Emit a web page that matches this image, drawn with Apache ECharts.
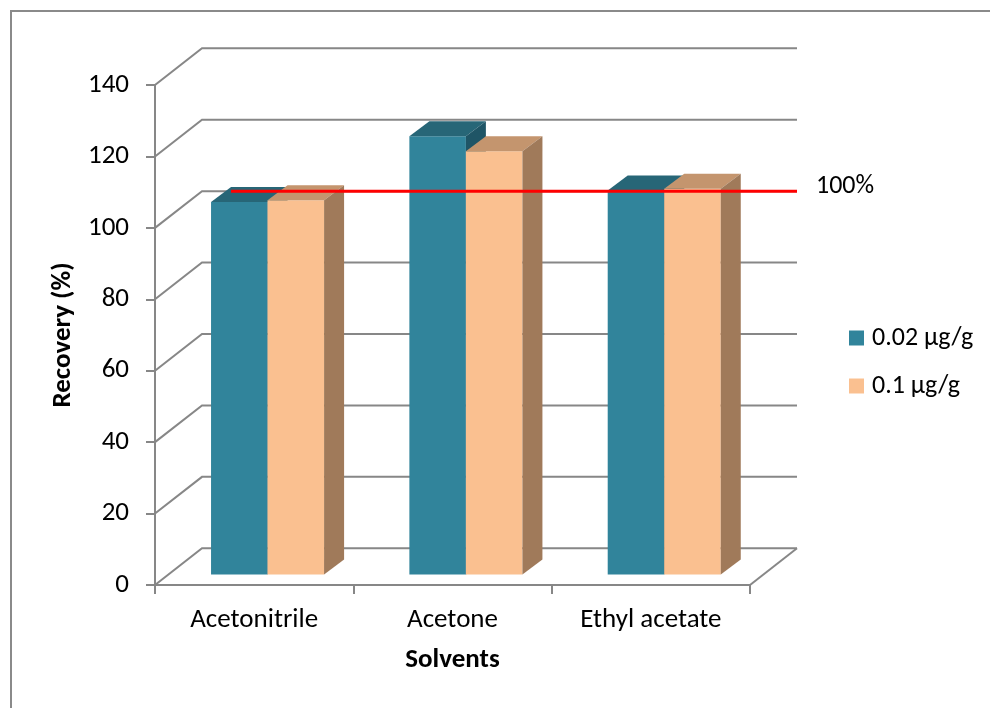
<!DOCTYPE html>
<html>
<head>
<meta charset="utf-8">
<script src="https://cdn.jsdelivr.net/npm/echarts@6/dist/echarts.min.js"></script>
<style>
  html, body { margin: 0; padding: 0; background: #ffffff; }
  #chart { width: 990px; height: 708px; }
</style>
</head>
<body>
<div id="chart"></div>
<script>
// Recovery of the analyte per extraction solvent at two fortification levels
const CATEGORIES = ['Acetonitrile', 'Acetone', 'Ethyl acetate'];
const SERIES_NAMES = ['0.02 µg/g', '0.1 µg/g'];
const LOW_LEVEL = [104.3, 122.7, 107.5];
const HIGH_LEVEL = [104.8, 118.5, 108.0];
const Y_TICKS = [0, 20, 40, 60, 80, 100, 120, 140];
const REFERENCE = 100;
const REFERENCE_LABEL = '100%';

// Pseudo-3D geometry (pixels)
const WALL_DX = 47, WALL_DY = -36.7;         // depth of the floor / back wall
const BAR_OFF_DX = 13.4, BAR_OFF_DY = -10.5; // front plane of the bars
const BAR_DX = 20, BAR_DY = -15;             // depth of each bar
const BAR_FRAC = 0.285;                      // bar width as share of a category band

const FONT = 'Carlito, Lato, sans-serif';
const AXIS_FONT = 27;
const LEGEND_FONT = 26;
const NOTE_FONT = 26;
const GRID_COLOR = '#878787';

const PALETTE = [
  { front: '#31849B', top: '#276677', side: '#1F5566' },
  { front: '#FAC090', top: '#C4956E', side: '#A07A5A' }
];

const chart = echarts.init(document.getElementById('chart'), null, { renderer: 'canvas' });

function gridRender(params, api) {
  const cs = params.coordSys;
  const v = api.value(1);
  const y = api.coord([0, v])[1];
  const x0 = cs.x, xr = cs.x + cs.width;
  const children = [{
    type: 'polyline',
    shape: { points: [[x0, y], [x0 + WALL_DX, y + WALL_DY], [xr + WALL_DX, y + WALL_DY]] },
    style: { stroke: GRID_COLOR, lineWidth: 2, fill: null }
  }];
  if (v === Y_TICKS[0]) {
    children.push({
      type: 'polyline',
      shape: { points: [[xr + WALL_DX, y + WALL_DY], [xr, y]] },
      style: { stroke: GRID_COLOR, lineWidth: 2, fill: null }
    });
  }
  return { type: 'group', children };
}

function barRender(seriesIdx) {
  const col = PALETTE[seriesIdx];
  return function (params, api) {
    const ci = api.value(0);
    const val = api.value(1);
    const band = api.size([1, 0])[0];
    const w = band * BAR_FRAC;
    const base = api.coord([ci, 0]);
    const top = api.coord([ci, val]);
    const xl = base[0] + BAR_OFF_DX + (seriesIdx - 1) * w;
    const xr = xl + w;
    const yb = base[1] + BAR_OFF_DY;
    const yt = top[1] + BAR_OFF_DY;
    return {
      type: 'group',
      children: [
        { type: 'rect', shape: { x: xl, y: yt, width: w, height: yb - yt },
          style: { fill: col.front } },
        { type: 'polygon', shape: { points: [[xl, yt], [xl + BAR_DX, yt + BAR_DY], [xr + BAR_DX, yt + BAR_DY], [xr, yt]] },
          style: { fill: col.top } },
        { type: 'polygon', shape: { points: [[xr, yt], [xr + BAR_DX, yt + BAR_DY], [xr + BAR_DX, yb + BAR_DY], [xr, yb]] },
          style: { fill: col.side } }
      ]
    };
  };
}

function referenceRender(params, api) {
  const cs = params.coordSys;
  const band = api.size([1, 0])[0];
  const w = band * BAR_FRAC;
  const y = api.coord([0, api.value(1)])[1] + WALL_DY;
  const x1 = api.coord([0, 0])[0] + BAR_OFF_DX - w + BAR_DX;
  const x2 = cs.x + cs.width + WALL_DX;
  return {
    type: 'group',
    children: [
      { type: 'line', shape: { x1, y1: y, x2, y2: y },
        style: { stroke: '#FF0000', lineWidth: 3 } },
      { type: 'text', x: x2 + 19, y: y - 5,
        style: { text: REFERENCE_LABEL, fill: '#000000', font: NOTE_FONT + 'px ' + FONT,
                 align: 'left', verticalAlign: 'middle' } }
    ]
  };
}

const option = {
  animation: false,
  backgroundColor: '#ffffff',
  textStyle: { fontFamily: FONT },
  graphic: [{
    type: 'rect', silent: true, z: 0,
    shape: { x: 11, y: 11, width: 1400, height: 1400 },
    style: { fill: null, stroke: '#8a8a8a', lineWidth: 2 }
  }],
  grid: { left: 155, top: 85, width: 595, height: 500, outerBoundsMode: 'none' },
  legend: {
    orient: 'vertical', left: 849, top: 325, padding: 0,
    itemWidth: 15, itemHeight: 15, itemGap: 22, icon: 'rect',
    textStyle: { fontSize: LEGEND_FONT, color: '#000000', fontFamily: FONT, padding: [0, 0, 0, 3] },
    data: SERIES_NAMES
  },
  xAxis: {
    type: 'category', data: CATEGORIES,
    axisLine: { show: true, lineStyle: { color: GRID_COLOR, width: 2 } },
    axisTick: { show: true, length: 9, lineStyle: { color: GRID_COLOR, width: 2 } },
    axisLabel: { fontSize: AXIS_FONT, color: '#000000', margin: 22, fontFamily: FONT, interval: 0 },
    splitLine: { show: false },
    name: 'Solvents', nameLocation: 'middle', nameGap: 62,
    nameTextStyle: { fontSize: AXIS_FONT, fontWeight: 'bold', color: '#000000', fontFamily: FONT }
  },
  yAxis: {
    type: 'value', min: 0, max: 140, interval: 20,
    axisLine: { show: true, lineStyle: { color: GRID_COLOR, width: 2 } },
    axisTick: { show: true, length: 9, lineStyle: { color: GRID_COLOR, width: 2 } },
    axisLabel: { fontSize: AXIS_FONT, color: '#000000', margin: 26, fontFamily: FONT },
    splitLine: { show: false },
    name: 'Recovery (%)', nameLocation: 'middle', nameGap: 76, nameRotate: 90,
    nameTextStyle: { fontSize: AXIS_FONT, fontWeight: 'bold', color: '#000000', fontFamily: FONT }
  },
  series: [
    {
      type: 'custom', name: 'wall', z: 1, silent: true,
      renderItem: gridRender,
      data: Y_TICKS.map(v => [0, v])
    },
    {
      type: 'custom', name: SERIES_NAMES[0], z: 2,
      itemStyle: { color: PALETTE[0].front },
      renderItem: barRender(0),
      data: LOW_LEVEL.map((v, i) => [i, v])
    },
    {
      type: 'custom', name: SERIES_NAMES[1], z: 3,
      itemStyle: { color: PALETTE[1].front },
      renderItem: barRender(1),
      data: HIGH_LEVEL.map((v, i) => [i, v])
    },
    {
      type: 'custom', name: 'reference', z: 5, silent: true,
      renderItem: referenceRender,
      data: [[0, REFERENCE]]
    }
  ]
};

chart.setOption(option);
</script>
</body>
</html>
